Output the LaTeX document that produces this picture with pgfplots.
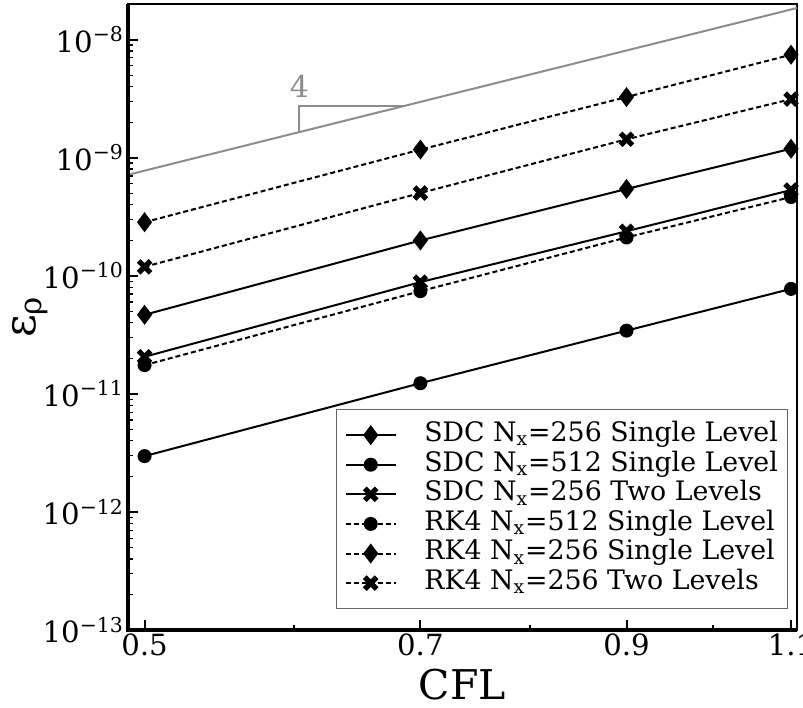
\documentclass[border=0pt]{standalone}
\usepackage{fontspec}
\setmainfont{DejaVu Serif}
\usepackage{pgfplots}
\pgfplotsset{compat=1.18}

\definecolor{refgray}{gray}{0.55}

\begin{document}
\begin{tikzpicture}
\useasboundingbox (-64pt,-38.5pt) rectangle (337.5pt,315pt);
\begin{axis}[
  name=ax, at={(0,0)}, anchor=south west,
  scale only axis, width=334.5pt, height=313pt,
  xmode=log, ymode=log,
  xmin=0.49, xmax=1.108, ymin=1e-13, ymax=2e-8,
  xtick={0.5,0.7,0.9,1.1}, xticklabels={0.5,0.7,0.9,1.1},
  minor xtick={0.6,0.8,1.0},
  ytick={1e-13,1e-12,1e-11,1e-10,1e-9,1e-8},
  yticklabels={10\textsuperscript{−13},10\textsuperscript{−12},10\textsuperscript{−11},10\textsuperscript{−10},10\textsuperscript{−9},10\textsuperscript{−8}},
  minor ytick={2e-13,3e-13,4e-13,5e-13,6e-13,7e-13,8e-13,9e-13,
               2e-12,3e-12,4e-12,5e-12,6e-12,7e-12,8e-12,9e-12,
               2e-11,3e-11,4e-11,5e-11,6e-11,7e-11,8e-11,9e-11,
               2e-10,3e-10,4e-10,5e-10,6e-10,7e-10,8e-10,9e-10,
               2e-9,3e-9,4e-9,5e-9,6e-9,7e-9,8e-9,9e-9},
  tick align=inside, xtick pos=left, ytick pos=left,
  major tick length=5pt, minor tick length=2.5pt,
  every major tick/.append style={line width=1pt, black},
  every minor tick/.append style={line width=0.6pt, black},
  axis line style={line width=0.6pt},
  ticklabel style={font=\fontsize{14.6}{17}\selectfont},
  xticklabel style={yshift=1.5pt},
  yticklabel style={xshift=1.5pt},
  xlabel={CFL}, ylabel={ε\textsubscript{ρ}},
  every axis x label/.style={at={(axis description cs:0.5,0)}, anchor=base, yshift=-34.5pt,
    inner sep=0pt, font=\fontsize{20.5}{24}\selectfont},
  every axis y label/.style={at={(axis description cs:0,0.5)}, anchor=center, rotate=90, yshift=49pt,
    font=\fontsize{22}{26}\selectfont},
  legend style={at={(rel axis cs:1,0)}, anchor=south east, xshift=-4.5pt, yshift=10.5pt,
    draw=black!60, line width=0.5pt, font=\fontsize{13.4}{16}\selectfont,
    inner xsep=4pt, inner ysep=5.3pt, row sep=0pt,
    nodes={inner sep=0.8pt, text height=9.8pt, text depth=3.4pt},
    /tikz/every odd column/.append style={column sep=13pt}},
  legend cell align=left,
  legend image code/.code={\draw[mark repeat=2,mark phase=2] plot coordinates {(0pt,0pt)(12.5pt,0pt)(25pt,0pt)};},
]
% reference slope 4
\addplot[refgray, line width=1pt, forget plot] coordinates {(0.49,7.16e-10) (1.108,1.85e-8)};
\addplot[refgray, line width=1pt, forget plot] coordinates {(0.604,1.65e-9) (0.604,2.72e-9) (0.687,2.72e-9)};
\node[text=refgray, font=\fontsize{15}{18}\selectfont] at (axis cs:0.604,4.0e-9) {4};

\addplot[black, line width=1pt, mark=diamond*, mark size=4.2pt, mark options={solid}]
  coordinates {(0.5,4.67e-11) (0.7,1.99e-10) (0.9,5.43e-10) (1.1,1.19e-9)};
\addlegendentry{SDC N\textsubscript{x}=256 Single Level}
\addplot[black, line width=1pt, mark=*, mark size=3pt, mark options={solid}]
  coordinates {(0.5,2.97e-12) (0.7,1.23e-11) (0.9,3.43e-11) (1.1,7.74e-11)};
\addlegendentry{SDC N\textsubscript{x}=512 Single Level}
\addplot[black, line width=1pt, mark=x, mark size=4.2pt, mark options={solid, line width=2.6pt}]
  coordinates {(0.5,2.06e-11) (0.7,8.83e-11) (0.9,2.38e-10) (1.1,5.32e-10)};
\addlegendentry{SDC N\textsubscript{x}=256 Two Levels}
\addplot[black, line width=1pt, dash pattern=on 2.5pt off 1.5pt, mark=*, mark size=3pt, mark options={solid}]
  coordinates {(0.5,1.75e-11) (0.7,7.4e-11) (0.9,2.11e-10) (1.1,4.64e-10)};
\addlegendentry{RK4 N\textsubscript{x}=512 Single Level}
\addplot[black, line width=1pt, dash pattern=on 2.5pt off 1.5pt, mark=diamond*, mark size=4.2pt, mark options={solid}]
  coordinates {(0.5,2.84e-10) (0.7,1.17e-9) (0.9,3.26e-9) (1.1,7.44e-9)};
\addlegendentry{RK4 N\textsubscript{x}=256 Single Level}
\addplot[black, line width=1pt, dash pattern=on 2.5pt off 1.5pt, mark=x, mark size=4.2pt, mark options={solid, line width=2.6pt}]
  coordinates {(0.5,1.19e-10) (0.7,5.02e-10) (0.9,1.43e-9) (1.1,3.13e-9)};
\addlegendentry{RK4 N\textsubscript{x}=256 Two Levels}
\end{axis}
\draw[line width=2pt] (ax.north west) -- (ax.south west) -- (ax.south east);
\end{tikzpicture}
\end{document}
